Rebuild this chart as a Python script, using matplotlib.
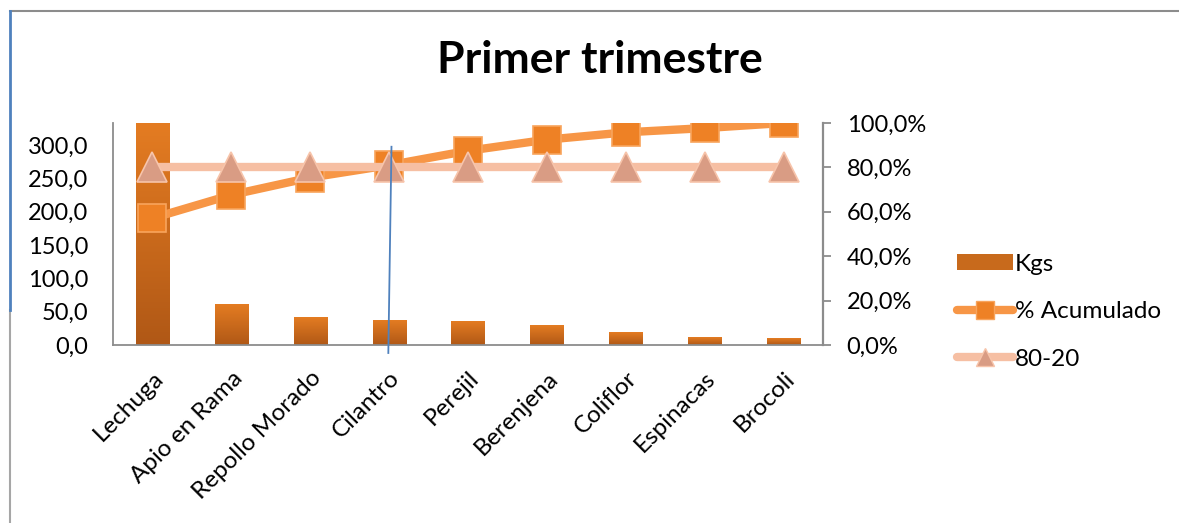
import numpy as np
import matplotlib
matplotlib.use("Agg")
import matplotlib.pyplot as plt
from matplotlib.lines import Line2D
from matplotlib.patches import Patch
from matplotlib.ticker import FuncFormatter

plt.rcParams['font.family'] = ['Lato', 'DejaVu Sans']

# Datos del primer trimestre
productos = ['Lechuga', 'Apio en Rama', 'Repollo Morado', 'Cilantro', 'Perejil',
             'Berenjena', 'Coliflor', 'Espinacas', 'Brocoli']
kgs = [333.0, 61.5, 42.0, 37.5, 36.0, 30.0, 19.5, 12.0, 10.5]
acumulado = [0.571, 0.676, 0.754, 0.81, 0.875, 0.925, 0.958, 0.977, 1.0]
linea_80_20 = [0.8] * len(productos)

gris = '#8c8c8c'
azul = '#4f81bd'
naranja_linea = '#f79646'
salmon_linea = '#f6bfa3'


def coma(v, decimales=1):
    return f"{v:.{decimales}f}".replace('.', ',')


fig = plt.figure(figsize=(11.79, 5.23), dpi=100)
ax = fig.add_axes([113 / 1179, 1 - 345 / 523, 710 / 1179, 222 / 523])
x = np.arange(len(productos))

# barras con degradado vertical
barras = ax.bar(x, kgs, width=0.42, color='none', zorder=2)
grad = np.linspace(0, 1, 256).reshape(-1, 1)
cmap = matplotlib.colors.LinearSegmentedColormap.from_list('kg', ['#b05816', '#e47c22'])
for b in barras:
    bx, by = b.get_x(), b.get_y()
    im = ax.imshow(grad, cmap=cmap, aspect='auto', origin='lower',
                   extent=[bx, bx + b.get_width(), by, by + b.get_height()], zorder=2)
    im.set_clip_path(b)

ax.set_xlim(-0.5, len(productos) - 0.5)
ax.set_ylim(0, 333)
ax.set_yticks(np.arange(0, 301, 50))
ax.yaxis.set_major_formatter(FuncFormatter(lambda v, p: coma(v)))
ax.tick_params(axis='y', length=0, pad=18, labelsize=17)
ax.set_xticks(x)
ax.set_xticklabels(productos, rotation=45, ha='right', va='top',
                   rotation_mode='anchor', fontsize=17.5)
ax.tick_params(axis='x', length=0, pad=16)
for lado in ['top', 'right']:
    ax.spines[lado].set_visible(False)
for lado in ['left', 'bottom']:
    ax.spines[lado].set_color(gris)
    ax.spines[lado].set_linewidth(1.3)

# eje secundario con porcentajes
ax2 = ax.twinx()
ax2.set_ylim(0, 1.0)
ax2.set_yticks(np.arange(0, 1.01, 0.2))
ax2.yaxis.set_major_formatter(FuncFormatter(lambda v, p: coma(v * 100) + '%'))
ax2.tick_params(axis='y', direction='out', length=6, width=1.3, color=gris, pad=11, labelsize=17)
for lado in ['top', 'left', 'bottom']:
    ax2.spines[lado].set_visible(False)
ax2.spines['right'].set_color(gris)
ax2.spines['right'].set_linewidth(1.6)

ax2.plot(x, acumulado, color=naranja_linea, lw=6, marker='s', markersize=19.5,
         markerfacecolor='#ee8125', markeredgecolor='#f8a45c', markeredgewidth=1.2,
         solid_capstyle='round', zorder=3)
ax2.plot(x, linea_80_20, color=salmon_linea, lw=6, marker='^', markersize=21,
         markerfacecolor='#d99c84', markeredgecolor='#f7c4aa', markeredgewidth=1.2,
         solid_capstyle='round', zorder=4)

# línea vertical de referencia sobre Cilantro
ax2.add_line(Line2D([3.03, 2.99], [0.893, -0.036], color=azul, lw=1.3,
                    transform=ax2.get_xaxis_transform(), clip_on=False, zorder=5))

# leyenda
handles = [
    Patch(facecolor='#c86a1c', edgecolor='none'),
    Line2D([], [], color=naranja_linea, lw=6, marker='s', markersize=13,
           markerfacecolor='#ee8125', markeredgecolor='#f8a45c', solid_capstyle='round'),
    Line2D([], [], color=salmon_linea, lw=6, marker='^', markersize=13,
           markerfacecolor='#d99c84', markeredgecolor='#f7c4aa', solid_capstyle='round'),
]
fig.legend(handles, ['Kgs', '% Acumulado', '80-20'], loc='upper left',
           bbox_to_anchor=(947 / 1179, 1 - 244 / 523), frameon=False, fontsize=17.5,
           handlelength=2.3, handleheight=0.65, handletextpad=0.1, labelspacing=1.09,
           borderaxespad=0)

fig.text(600 / 1179, 1 - 60 / 523, 'Primer trimestre', ha='center', va='center',
         fontsize=32, fontweight='bold')

# marco del gráfico
fig.add_artist(Line2D([10 / 1179, 1.0], [1 - 11 / 523] * 2, color=gris, lw=1.5,
                      transform=fig.transFigure))
fig.add_artist(Line2D([10 / 1179] * 2, [0, 1 - 310 / 523], color='#a6a6a6', lw=1.5,
                      transform=fig.transFigure))
fig.add_artist(Line2D([10 / 1179] * 2, [1 - 310 / 523, 1 - 11 / 523], color=azul, lw=2,
                      transform=fig.transFigure))

fig.savefig('out.png', dpi=100)
